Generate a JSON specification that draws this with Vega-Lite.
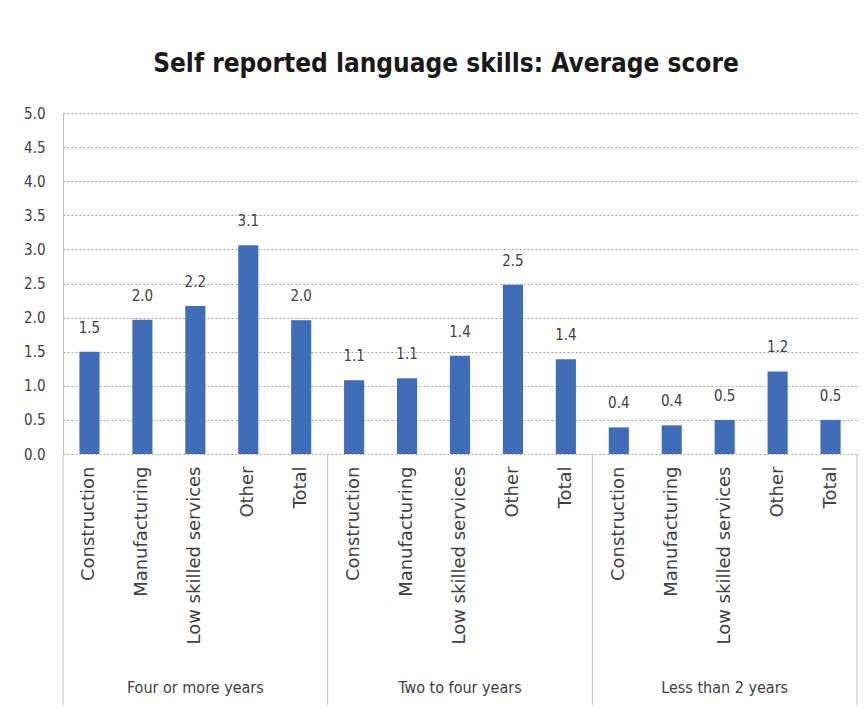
{
  "$schema": "https://vega.github.io/schema/vega-lite/v6.json",
  "width": 794,
  "height": 341,
  "autosize": "none",
  "padding": {"left": 63, "top": 113, "right": 8, "bottom": 252},
  "background": "white",
  "title": {
    "text": "Self reported language skills: Average score",
    "font": "DejaVu Sans Condensed",
    "fontSize": 26,
    "fontWeight": "bold",
    "color": "#1a1a1a",
    "anchor": "middle",
    "dx": -14,
    "offset": 8,
    "baseline": "alphabetic"
  },
  "config": {"view": {"stroke": null}},
  "resolve": {"axis": {"y": "independent"}},
  "data": {
    "values": [
      {"k": "Four or more years|Construction", "g": "Four or more years", "c": "Construction", "v": 1.5},
      {"k": "Four or more years|Manufacturing", "g": "Four or more years", "c": "Manufacturing", "v": 1.97},
      {"k": "Four or more years|Low skilled services", "g": "Four or more years", "c": "Low skilled services", "v": 2.17},
      {"k": "Four or more years|Other", "g": "Four or more years", "c": "Other", "v": 3.06},
      {"k": "Four or more years|Total", "g": "Four or more years", "c": "Total", "v": 1.96},
      {"k": "Two to four years|Construction", "g": "Two to four years", "c": "Construction", "v": 1.08},
      {"k": "Two to four years|Manufacturing", "g": "Two to four years", "c": "Manufacturing", "v": 1.11},
      {"k": "Two to four years|Low skilled services", "g": "Two to four years", "c": "Low skilled services", "v": 1.44},
      {"k": "Two to four years|Other", "g": "Two to four years", "c": "Other", "v": 2.48},
      {"k": "Two to four years|Total", "g": "Two to four years", "c": "Total", "v": 1.39},
      {"k": "Less than 2 years|Construction", "g": "Less than 2 years", "c": "Construction", "v": 0.39},
      {"k": "Less than 2 years|Manufacturing", "g": "Less than 2 years", "c": "Manufacturing", "v": 0.42},
      {"k": "Less than 2 years|Low skilled services", "g": "Less than 2 years", "c": "Low skilled services", "v": 0.5},
      {"k": "Less than 2 years|Other", "g": "Less than 2 years", "c": "Other", "v": 1.21},
      {"k": "Less than 2 years|Total", "g": "Less than 2 years", "c": "Total", "v": 0.5}
    ]
  },
  "layer": [
    {
      "mark": {"type": "bar", "width": {"band": 0.38}, "color": "#3F6DB7"},
      "encoding": {
        "x": {
          "field": "k",
          "type": "nominal",
          "sort": null,
          "scale": {"paddingInner": 0, "paddingOuter": 0},
          "axis": {
            "title": null,
            "labelExpr": "split(datum.value, '|')[1]",
            "labelAngle": -90,
            "ticks": false,
            "domain": false,
            "labelPadding": 12,
            "labelFont": "DejaVu Sans",
            "labelFontSize": 18,
            "labelColor": "#404040",
            "labelLimit": 400,
            "labelOverlap": false
          }
        },
        "y": {
          "field": "v",
          "type": "quantitative",
          "scale": {"domain": [0, 5], "nice": false},
          "axis": {
            "title": null,
            "values": [0, 0.5, 1, 1.5, 2, 2.5, 3, 3.5, 4, 4.5, 5],
            "format": ".1f",
            "ticks": false,
            "labelOverlap": false,
            "labelFlush": false,
            "domainColor": "#BFBFBF",
            "gridColor": "#A6A6A6",
            "gridDash": [2, 2],
            "labelPadding": 18,
            "labelFont": "DejaVu Sans Condensed",
            "labelFontSize": 15,
            "labelColor": "#404040"
          }
        }
      }
    },
    {
      "mark": {"type": "text", "baseline": "alphabetic", "dy": -19, "font": "DejaVu Sans Condensed", "fontSize": 15, "color": "#404040"},
      "encoding": {
        "x": {"field": "k", "type": "nominal", "sort": null},
        "y": {"field": "v", "type": "quantitative", "axis": null},
        "text": {"field": "v", "format": ".1f"}
      }
    },
    {
      "transform": [{"filter": "datum.c === 'Construction'"}],
      "mark": {"type": "rule", "color": "#BFBFBF", "strokeWidth": 1},
      "encoding": {
        "x": {"field": "k", "type": "nominal", "sort": null, "bandPosition": 0},
        "y": {"datum": 0, "axis": null},
        "y2": {"datum": -3.68}
      }
    },
    {
      "transform": [{"filter": "datum.g === 'Less than 2 years' && datum.c === 'Total'"}],
      "mark": {"type": "rule", "color": "#BFBFBF", "strokeWidth": 1},
      "encoding": {
        "x": {"field": "k", "type": "nominal", "sort": null, "bandPosition": 1},
        "y": {"datum": 0, "axis": null},
        "y2": {"datum": -3.68}
      }
    },
    {
      "transform": [{"filter": "datum.c === 'Low skilled services'"}],
      "mark": {"type": "text", "baseline": "alphabetic", "font": "DejaVu Sans Condensed", "fontSize": 16, "color": "#404040"},
      "encoding": {
        "x": {"field": "k", "type": "nominal", "sort": null},
        "y": {"datum": -3.5, "axis": null},
        "text": {"field": "g"}
      }
    }
  ]
}
